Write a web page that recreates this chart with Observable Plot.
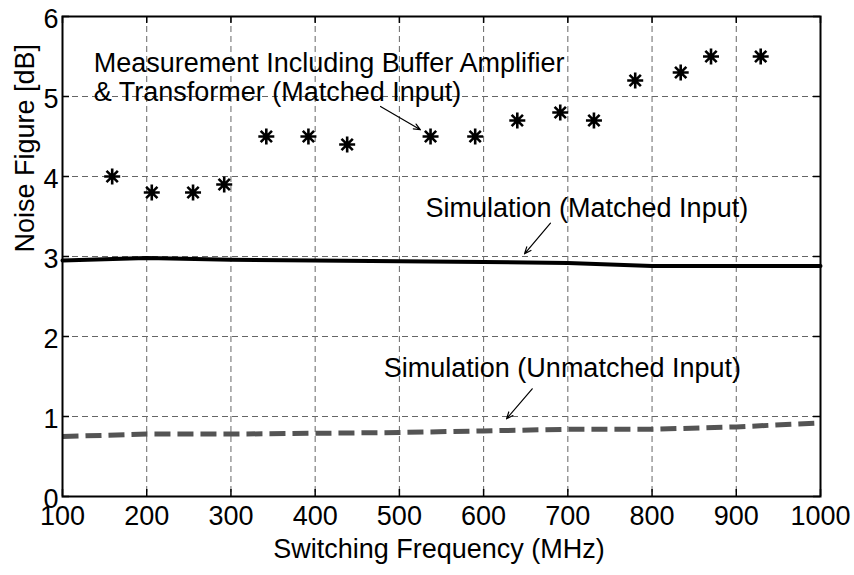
<!DOCTYPE html>
<html>
<head>
<meta charset="utf-8">
<script src="https://cdn.jsdelivr.net/npm/d3@7"></script>
<script src="https://cdn.jsdelivr.net/npm/@observablehq/plot@0.6"></script>
<style>
  body { margin: 0; background: #fff; }
</style>
</head>
<body>
<div id="chart"></div>
<script>
// Axis ticks
const xTicks = [100, 200, 300, 400, 500, 600, 700, 800, 900, 1000];
const yTicks = [0, 1, 2, 3, 4, 5, 6];

// Simulated noise figure (dB) vs switching frequency (MHz)
const simFreq = [100, 200, 300, 400, 500, 600, 700, 800, 900, 1000];
const nfMatched = [2.95, 2.98, 2.96, 2.95, 2.94, 2.93, 2.92, 2.88, 2.88, 2.88];
const nfUnmatched = [0.75, 0.78, 0.78, 0.79, 0.80, 0.82, 0.84, 0.84, 0.87, 0.92];

// Measured noise figure (dB), incl. buffer amplifier & transformer
const measFreq = [159, 206, 255, 292, 342, 392, 438, 537, 590, 640, 691, 731, 780, 834, 870, 929];
const nfMeasured = [4.0, 3.8, 3.8, 3.9, 4.5, 4.5, 4.4, 4.5, 4.5, 4.7, 4.8, 4.7, 5.2, 5.3, 5.5, 5.5];

// Annotations
const labelText = [
  "Measurement Including Buffer Amplifier\n& Transformer (Matched Input)",
  "Simulation (Matched Input)",
  "Simulation (Unmatched Input)"
];
const labelFreq = [137, 531, 481.5];
const labelNF = [4.95, 3.49, 1.49];
const arrowFreq1 = [477.6, 679.4, 657.7];
const arrowNF1 = [4.875, 3.416, 1.346];
const arrowFreq2 = [525, 648.6, 627.2];
const arrowNF2 = [4.584, 3.034, 0.971];

const W = 854, H = 575;
const M = {top: 16, right: 34, bottom: 79, left: 62};
const innerW = W - M.left - M.right;
const innerH = H - M.top - M.bottom;
const tickLen = 7;
const FONT = "Liberation Sans, Arial, Helvetica, sans-serif";

const sim = simFreq.map((f, i) => ({f, matched: nfMatched[i], unmatched: nfUnmatched[i]}));
const meas = measFreq.map((f, i) => ({f, nf: nfMeasured[i]}));
const labels = labelText.map((t, i) => ({t, f: labelFreq[i], nf: labelNF[i]}));
const arrows = arrowFreq1.map((f1, i) => ({f1, y1: arrowNF1[i], f2: arrowFreq2[i], y2: arrowNF2[i]}));

// Eight-armed asterisk marker (plus + cross)
const asterisk = {
  draw(context, size) {
    const r = Math.sqrt(size / Math.PI);
    const d = r * Math.SQRT1_2;
    context.moveTo(-r, 0); context.lineTo(r, 0);
    context.moveTo(0, -r); context.lineTo(0, r);
    context.moveTo(-d, -d); context.lineTo(d, d);
    context.moveTo(-d, d); context.lineTo(d, -d);
  }
};

const chart = Plot.plot({
  width: W,
  height: H,
  marginTop: M.top,
  marginRight: M.right,
  marginBottom: M.bottom,
  marginLeft: M.left,
  style: {fontFamily: FONT, fontSize: "27px", background: "#fff", color: "#000"},
  x: {domain: [100, 1000], axis: null},
  y: {domain: [0, 6], axis: null},
  marks: [
    // dashed grid
    Plot.ruleX(xTicks, {x: d => d, stroke: "#666", strokeWidth: 1, strokeDasharray: "6,4"}),
    Plot.ruleY(yTicks, {y: d => d, stroke: "#666", strokeWidth: 1, strokeDasharray: "6,4"}),
    // simulation curves
    Plot.line(sim, {x: "f", y: "unmatched", stroke: "#545454", strokeWidth: 5, strokeDasharray: "16,7", strokeLinecap: "butt"}),
    Plot.line(sim, {x: "f", y: "matched", stroke: "#000", strokeWidth: 4}),
    // measurement
    Plot.dot(meas, {x: "f", y: "nf", symbol: asterisk, r: 8, fill: "none", stroke: "#000", strokeWidth: 2.6}),
    // annotations
    Plot.text(labels, {x: "f", y: "nf", text: "t", textAnchor: "start", lineAnchor: "bottom", lineHeight: 1.074, fontSize: 27, fontFamily: FONT, fill: "#000"}),
    Plot.arrow(arrows, {x1: "f1", y1: "y1", x2: "f2", y2: "y2", stroke: "#000", strokeWidth: 1.2, headLength: 9, headAngle: 45}),
    // box and inward ticks
    Plot.frame({stroke: "#000", strokeWidth: 2}),
    Plot.ruleX(xTicks, {x: d => d, insetTop: innerH - tickLen, stroke: "#000", strokeWidth: 1.5}),
    Plot.ruleX(xTicks, {x: d => d, insetBottom: innerH - tickLen, stroke: "#000", strokeWidth: 1.5}),
    Plot.ruleY(yTicks, {y: d => d, insetRight: innerW - tickLen, stroke: "#000", strokeWidth: 1.5}),
    Plot.ruleY(yTicks, {y: d => d, insetLeft: innerW - tickLen, stroke: "#000", strokeWidth: 1.5}),
    // tick labels
    Plot.text(xTicks, {x: d => d, text: d => String(d), frameAnchor: "bottom", lineAnchor: "bottom", dy: 28, fontSize: 27, fontFamily: FONT, fill: "#000"}),
    Plot.text(yTicks, {y: d => d, text: d => String(d), frameAnchor: "left", textAnchor: "end", dx: -4, dy: 3, fontSize: 27, fontFamily: FONT, fill: "#000"}),
    // axis titles
    Plot.text(["Switching Frequency (MHz)"], {text: d => d, frameAnchor: "bottom", lineAnchor: "bottom", dx: -2.5, dy: 61, fontSize: 27, fontFamily: FONT, fill: "#000"}),
    Plot.text(["Noise Figure [dB]"], {text: d => d, frameAnchor: "left", rotate: -90, lineAnchor: "bottom", dx: -29, dy: -4, fontSize: 27, fontFamily: FONT, fill: "#000"})
  ]
});

document.getElementById("chart").appendChild(chart);
</script>
</body>
</html>
